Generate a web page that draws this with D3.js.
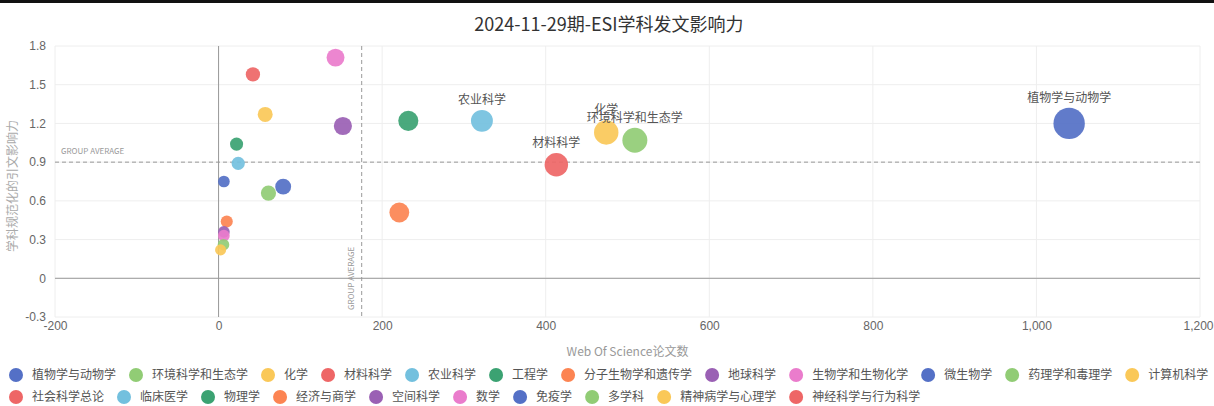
<!DOCTYPE html>
<html lang="zh">
    <head>
        <meta charset="utf-8">
        <title>2024-11-29期-ESI学科发文影响力</title>

        <script src="https://d3js.org/d3.v7.min.js"></script>

        <style>
            body {
                margin: 0;
                background-color: #fff;
                font-family: "Noto Sans CJK SC", "Noto Sans", sans-serif;
            }

            .grid line {
                stroke: #eee;
            }

            .tick text {
                fill: #666;
                font-size: 12px;
            }

            .avg-line {
                stroke: #999;
                stroke-dasharray: 4 3;
            }

            .avg-label {
                fill: #999;
                font-size: 8px;
            }

            .legend text {
                fill: #555;
                font-size: 12px;
            }
        </style>
    </head>
    <body>
        <svg id="chart"></svg>

        <script>
            //data
            const categories = ["植物学与动物学", "环境科学和生态学", "化学", "材料科学", "农业科学", "工程学",
                "分子生物学和遗传学", "地球科学", "生物学和生物化学", "微生物学", "药理学和毒理学", "计算机科学",
                "社会科学总论", "临床医学", "物理学", "经济与商学", "空间科学", "数学", "免疫学", "多学科",
                "精神病学与心理学", "神经科学与行为科学"];
            const papers = [1040, 509, 474, 413, 322, 232, 221, 152, 143, 79, 61, 57, 42, 24, 22, 10, 6.5, 6.5, 6.5, 6, 2.5, null];
            const impact = [1.20, 1.07, 1.13, 0.88, 1.22, 1.22, 0.51, 1.18, 1.71, 0.71, 0.66, 1.27, 1.58, 0.89, 1.04, 0.44, 0.36, 0.33, 0.75, 0.26, 0.22, null];
            const labeled = ["植物学与动物学", "环境科学和生态学", "化学", "材料科学", "农业科学"];
            const avgPapers = 175;
            const avgImpact = 0.9;
            const xTicks = [-200, 0, 200, 400, 600, 800, 1000, 1200];
            const yTicks = [-0.3, 0, 0.3, 0.6, 0.9, 1.2, 1.5, 1.8];

            const palette = ["#5470c6", "#91cc75", "#fac858", "#ee6666", "#73c0de", "#3ba272", "#fc8452", "#9a60b4", "#ea7ccc"];
            const color = d3.scaleOrdinal().domain(categories).range(palette);

            //chart dimensions
            const W = 1214, H = 406;
            const margin = { top: 46, right: 14, bottom: 89, left: 55 };
            const width = W - margin.left - margin.right;
            const height = H - margin.top - margin.bottom;

            const root = d3.select("#chart")
                .attr("width", W)
                .attr("height", H);

            //dark band along the top edge of the screenshot
            root.append("rect").attr("width", W).attr("height", 3).attr("fill", "#111");

            root.append("text")
                .attr("x", 609)
                .attr("y", 31)
                .attr("text-anchor", "middle")
                .attr("fill", "#333")
                .style("font-size", "18px")
                .text("2024-11-29期-ESI学科发文影响力");

            const svg = root.append("g")
                .attr("transform", `translate(${margin.left}, ${margin.top})`);

            //scales
            const xScale = d3.scaleLinear().domain([-200, 1200]).range([0, width]);
            const yScale = d3.scaleLinear().domain([-0.3, 1.8]).range([height, 0]);
            const rScale = d3.scaleSqrt().domain([0, 1100]).range([5, 16]);

            //grid
            svg.append("g").attr("class", "grid")
                .selectAll("line").data(yTicks).join("line")
                .attr("x1", 0).attr("x2", width)
                .attr("y1", d => yScale(d)).attr("y2", d => yScale(d));

            svg.append("g").attr("class", "grid")
                .selectAll("line").data(xTicks).join("line")
                .attr("x1", d => xScale(d)).attr("x2", d => xScale(d))
                .attr("y1", 0).attr("y2", height);

            //axes on zero
            const xAxis = d3.axisBottom(xScale).tickValues(xTicks).tickSize(0).tickPadding(4)
                .tickFormat(d => d.toLocaleString("en-US"));
            const yAxis = d3.axisLeft(yScale).tickValues(yTicks).tickSize(0).tickPadding(9)
                .tickFormat(d => String(d));

            svg.append("g")
                .attr("transform", `translate(0, ${height})`)
                .call(xAxis)
                .call(g => g.select(".domain").remove())
                .call(g => g.selectAll(".tick:last-of-type text").attr("text-anchor", "end").attr("dx", 13));

            svg.append("g")
                .call(yAxis)
                .call(g => g.select(".domain").remove());

            svg.append("line")
                .attr("x1", 0).attr("x2", width)
                .attr("y1", yScale(0)).attr("y2", yScale(0))
                .attr("stroke", "#999");

            svg.append("line")
                .attr("x1", xScale(0)).attr("x2", xScale(0))
                .attr("y1", 0).attr("y2", height)
                .attr("stroke", "#999");

            //axis titles
            svg.append("text")
                .attr("x", width / 2)
                .attr("y", height + 39)
                .attr("text-anchor", "middle")
                .attr("fill", "#999")
                .style("font-size", "12px")
                .text("Web Of Science论文数");

            svg.append("text")
                .attr("transform", `translate(${-38}, ${140}) rotate(-90)`)
                .attr("text-anchor", "middle")
                .attr("fill", "#aaa")
                .style("font-size", "12px")
                .text("学科规范化的引文影响力");

            //group averages
            svg.append("line").attr("class", "avg-line")
                .attr("x1", 0).attr("x2", width)
                .attr("y1", yScale(avgImpact)).attr("y2", yScale(avgImpact));

            svg.append("line").attr("class", "avg-line")
                .attr("x1", xScale(avgPapers)).attr("x2", xScale(avgPapers))
                .attr("y1", 0).attr("y2", height);

            svg.append("text").attr("class", "avg-label")
                .attr("x", 6)
                .attr("y", yScale(avgImpact) - 8)
                .text("GROUP AVERAGE");

            svg.append("text").attr("class", "avg-label")
                .attr("transform", `translate(${xScale(avgPapers) - 8}, ${height - 7}) rotate(-90)`)
                .text("GROUP AVERAGE");

            //bubbles
            const points = categories.map((c, i) => ({ name: c, x: papers[i], y: impact[i] }))
                .filter(d => d.x !== null);

            svg.selectAll(".bubble")
                .data(points)
                .join("circle")
                .attr("class", "bubble")
                .attr("cx", d => xScale(d.x))
                .attr("cy", d => yScale(d.y))
                .attr("r", d => rScale(d.x))
                .attr("fill", d => color(d.name))
                .attr("fill-opacity", 0.92);

            svg.selectAll(".bubble-label")
                .data(points.filter(d => labeled.includes(d.name)))
                .join("text")
                .attr("class", "bubble-label")
                .attr("x", d => xScale(d.x))
                .attr("y", d => yScale(d.y) - rScale(d.x) - 6)
                .attr("text-anchor", "middle")
                .attr("fill", "#555")
                .style("font-size", "12px")
                .text(d => d.name);

            //legend, wraps like echarts
            const legend = root.append("g").attr("class", "legend");
            let lx = 9, ly = 375;
            categories.forEach(c => {
                const item = legend.append("g");
                item.append("circle").attr("cx", 7).attr("cy", 0).attr("r", 7).attr("fill", color(c));
                const t = item.append("text").attr("x", 23).attr("y", 4).text(c);
                const w = 23 + t.node().getComputedTextLength();
                if (lx + w > W - 2) { lx = 9; ly += 22; }
                item.attr("transform", `translate(${lx}, ${ly})`);
                lx += w + 13;
            });
        </script>
    </body>
</html>
